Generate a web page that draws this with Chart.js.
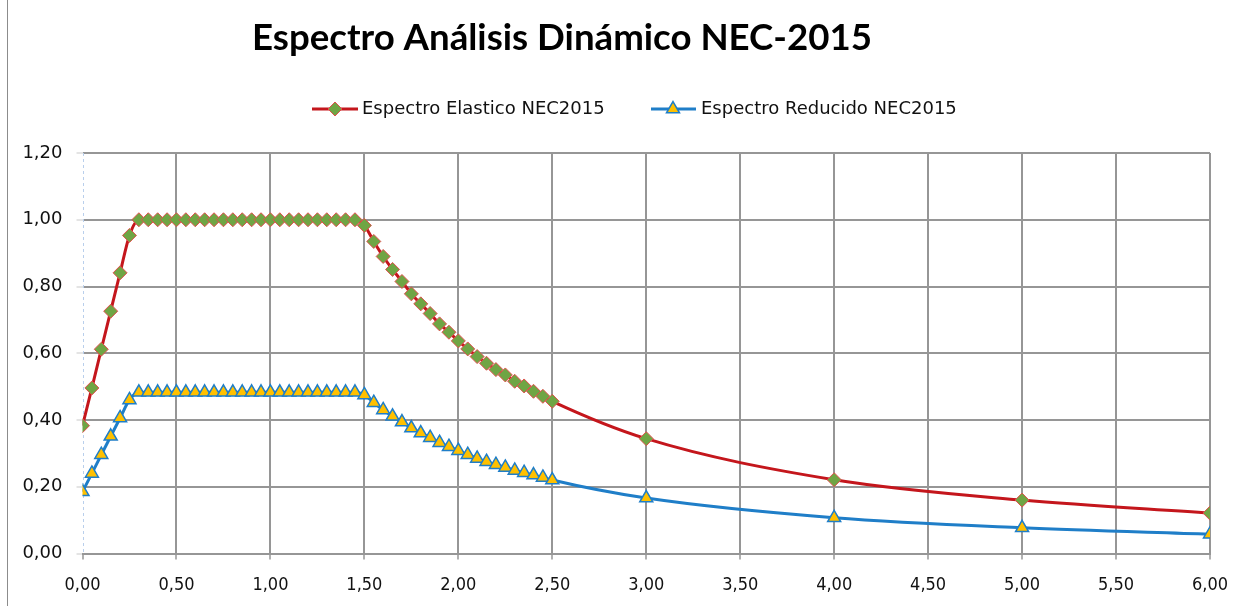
<!DOCTYPE html>
<html>
<head>
<meta charset="utf-8">
<title>Espectro Análisis Dinámico NEC-2015</title>
<script src="https://cdn.jsdelivr.net/npm/chart.js@4.4.1/dist/chart.umd.min.js"></script>
<style>
  html, body { margin: 0; padding: 0; background: #ffffff; }
  #wrap { position: relative; width: 1251px; height: 606px; }
  canvas { display: block; }
</style>
</head>
<body>
<div id="wrap"><canvas id="spectrum" width="1251" height="606"></canvas></div>
<script>
// Period T (s)
const periods = [
  0.00, 0.05, 0.10, 0.15, 0.20, 0.25, 0.30, 0.35, 0.40, 0.45,
  0.50, 0.55, 0.60, 0.65, 0.70, 0.75, 0.80, 0.85, 0.90, 0.95,
  1.00, 1.05, 1.10, 1.15, 1.20, 1.25, 1.30, 1.35, 1.40, 1.45,
  1.50, 1.55, 1.60, 1.65, 1.70, 1.75, 1.80, 1.85, 1.90, 1.95,
  2.00, 2.05, 2.10, 2.15, 2.20, 2.25, 2.30, 2.35, 2.40, 2.45,
  2.50, 3.00, 4.00, 5.00, 6.00
];

// Elastic spectral acceleration Sa (g)
const elasticSa = [
  0.383, 0.496, 0.612, 0.726, 0.841, 0.953, 1.000, 1.000, 1.000, 1.000,
  1.000, 1.000, 1.000, 1.000, 1.000, 1.000, 1.000, 1.000, 1.000, 1.000,
  1.000, 1.000, 1.000, 1.000, 1.000, 1.000, 1.000, 1.000, 1.000, 1.000,
  0.983, 0.935, 0.890, 0.851, 0.815, 0.778, 0.748, 0.719, 0.688, 0.663,
  0.637, 0.613, 0.590, 0.570, 0.551, 0.535, 0.516, 0.502, 0.486, 0.471,
  0.456, 0.344, 0.221, 0.160, 0.121
];

// Reduced (inelastic) spectral acceleration Sa (g)
const reducedSa = [
  0.185, 0.240, 0.296, 0.351, 0.406, 0.460, 0.483, 0.483, 0.483, 0.483,
  0.483, 0.483, 0.483, 0.483, 0.483, 0.483, 0.483, 0.483, 0.483, 0.483,
  0.483, 0.483, 0.483, 0.483, 0.483, 0.483, 0.483, 0.483, 0.483, 0.483,
  0.475, 0.452, 0.430, 0.411, 0.394, 0.376, 0.361, 0.347, 0.332, 0.320,
  0.308, 0.296, 0.285, 0.275, 0.266, 0.258, 0.249, 0.242, 0.235, 0.228,
  0.220, 0.166, 0.107, 0.077, 0.058
];

const xTickLabels = ['0,00','0,50','1,00','1,50','2,00','2,50','3,00','3,50','4,00','4,50','5,00','5,50','6,00'];
const yTickLabels = ['0,00','0,20','0,40','0,60','0,80','1,00','1,20'];

const chartTitle = 'Espectro Análisis Dinámico NEC-2015';
const seriesNames = ['Espectro Elastico NEC2015', 'Espectro Reducido NEC2015'];

const GRID = '#969696';

const elasticStyle = {
  borderColor: '#C4161C', borderWidth: 3,
  pointStyle: 'rectRot', pointRadius: 7,
  pointBackgroundColor: '#6FA544', pointBorderColor: '#E0504D', pointBorderWidth: 1
};
const reducedStyle = {
  borderColor: '#1F7EC8', borderWidth: 3,
  pointStyle: 'triangle', pointRadius: 7.5,
  pointBackgroundColor: '#FFC000', pointBorderColor: '#1F7EC8', pointBorderWidth: 1.5
};

// Dotted value axis drawn under the series
const valueAxisLine = {
  id: 'valueAxisLine',
  beforeDatasetsDraw(chart) {
    const { ctx, chartArea } = chart;
    ctx.save();
    ctx.strokeStyle = '#b9cfec';
    ctx.lineWidth = 1;
    ctx.setLineDash([3, 3]);
    const x = Math.round(chartArea.left) + 0.5;
    ctx.beginPath();
    ctx.moveTo(x, chartArea.top);
    ctx.lineTo(x, chartArea.bottom);
    ctx.stroke();
    ctx.restore();
  }
};

// Title, legend (line + marker samples) and the outer frame
const decorations = {
  id: 'decorations',
  afterDraw(chart) {
    const ctx = chart.ctx;
    ctx.save();

    // outer frame on the left side
    ctx.strokeStyle = '#8c8c8c';
    ctx.lineWidth = 1;
    ctx.beginPath();
    ctx.moveTo(7.5, 0);
    ctx.lineTo(7.5, 606);
    ctx.stroke();

    // title
    ctx.fillStyle = '#000000';
    ctx.textBaseline = 'alphabetic';
    ctx.textAlign = 'left';
    ctx.font = 'bold 100px Lato, "Open Sans", sans-serif';
    const w100 = ctx.measureText(chartTitle).width;
    const size = 100 * 620 / w100;
    ctx.font = 'bold ' + size.toFixed(2) + 'px Lato, "Open Sans", sans-serif';
    ctx.fillText(chartTitle, 252, 50);

    // legend
    const items = [
      { name: seriesNames[0], style: elasticStyle, x0: 312, x1: 358, mx: 335, tx: 362 },
      { name: seriesNames[1], style: reducedStyle, x0: 651, x1: 696, mx: 673, tx: 701 }
    ];
    const ly = 109;
    items.forEach(it => {
      ctx.strokeStyle = it.style.borderColor;
      ctx.lineWidth = it.style.borderWidth;
      ctx.beginPath();
      ctx.moveTo(it.x0, ly);
      ctx.lineTo(it.x1, ly);
      ctx.stroke();
      ctx.fillStyle = it.style.pointBackgroundColor;
      ctx.strokeStyle = it.style.pointBorderColor;
      ctx.lineWidth = it.style.pointBorderWidth;
      Chart.helpers.drawPoint(ctx, {
        pointStyle: it.style.pointStyle,
        radius: it.style.pointRadius,
        rotation: 0,
        borderWidth: it.style.pointBorderWidth
      }, it.mx, ly);
      ctx.fillStyle = '#111111';
      ctx.font = '18px "DejaVu Sans", sans-serif';
      ctx.textBaseline = 'middle';
      ctx.fillText(it.name, it.tx, ly);
    });
    ctx.restore();
  }
};

new Chart(document.getElementById('spectrum'), {
  type: 'line',
  data: {
    datasets: [
      Object.assign({
        label: seriesNames[0],
        data: periods.map((t, i) => ({ x: t, y: elasticSa[i] })),
        cubicInterpolationMode: 'monotone',
        fill: false
      }, elasticStyle),
      Object.assign({
        label: seriesNames[1],
        data: periods.map((t, i) => ({ x: t, y: reducedSa[i] })),
        cubicInterpolationMode: 'monotone',
        fill: false
      }, reducedStyle)
    ]
  },
  options: {
    responsive: false,
    devicePixelRatio: 1,
    animation: false,
    layout: { padding: { top: 153, right: 41, bottom: 0, left: 0 } },
    plugins: {
      legend: { display: false },
      title: { display: false },
      tooltip: { enabled: false }
    },
    scales: {
      x: {
        type: 'linear',
        min: 0, max: 6,
        ticks: {
          stepSize: 0.5,
          padding: 15,
          color: '#111111',
          font: { family: '"DejaVu Sans Condensed", "DejaVu Sans", sans-serif', size: 18 },
          callback: (v, i) => xTickLabels[i]
        },
        grid: {
          color: ctx => (ctx.tick && ctx.tick.value === 0) ? 'rgba(0,0,0,0)' : GRID,
          lineWidth: 2,
          tickColor: GRID,
          tickLength: 6,
          tickWidth: 1.5
        },
        border: { display: true, color: GRID, width: 2 },
        afterFit: s => { s.height = 52.5; }
      },
      y: {
        min: 0, max: 1.2,
        ticks: {
          stepSize: 0.2,
          padding: 14,
          color: '#111111',
          font: { family: '"DejaVu Sans", sans-serif', size: 18 },
          callback: (v, i) => yTickLabels[i]
        },
        grid: {
          color: ctx => (ctx.tick && ctx.tick.value === 0) ? 'rgba(0,0,0,0)' : GRID,
          lineWidth: 2,
          tickColor: '#c9c9c9',
          tickLength: 6,
          tickWidth: 1
        },
        border: { display: false },
        afterFit: s => { s.width = 82.5; }
      }
    }
  },
  plugins: [valueAxisLine, decorations]
});
</script>
</body>
</html>
